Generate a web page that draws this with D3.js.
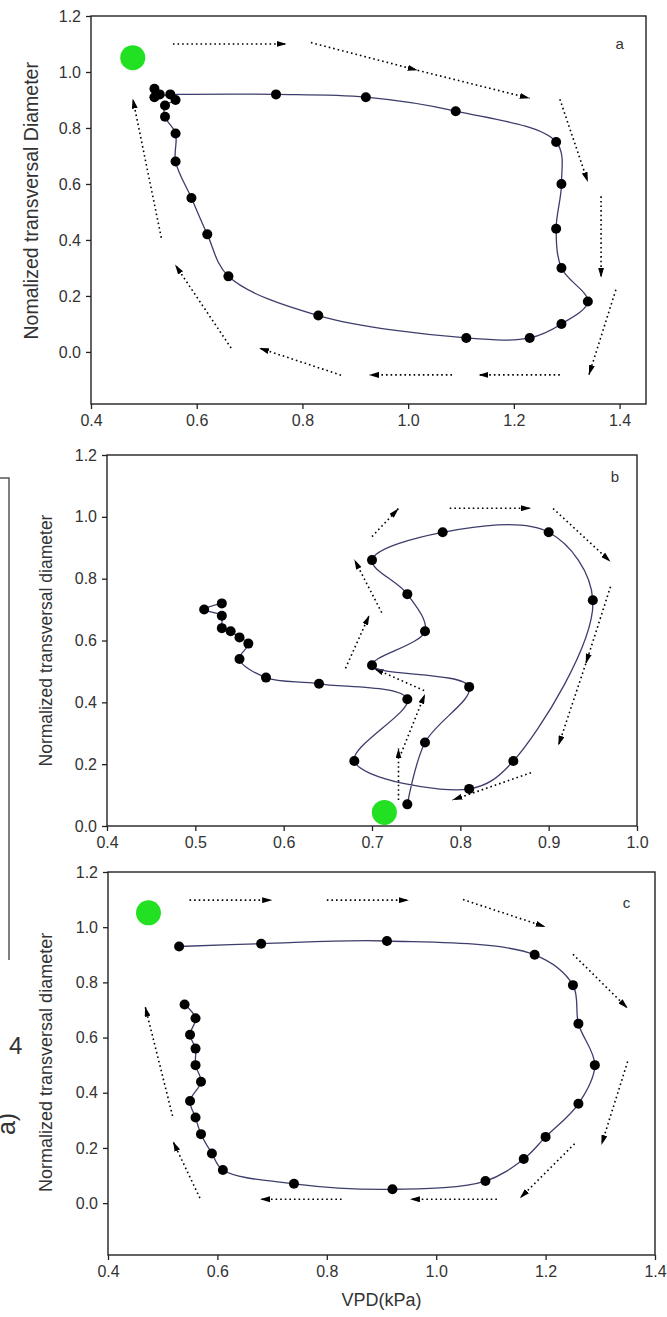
<!DOCTYPE html>
<html>
<head>
<meta charset="utf-8">
<script src="https://cdn.jsdelivr.net/npm/d3@7"></script>
<style>
  body { margin: 0; background: #fff; }
  svg { display: block; }
  text { font-family: Arial, "Liberation Sans", sans-serif; fill: #333; }
</style>
</head>
<body>
<script>
// valeurs (VPD en kPa, diametre normalise)
const aVPD  = [0.55, 0.75, 0.92, 1.09, 1.28, 1.29, 1.28, 1.29, 1.34, 1.29, 1.23, 1.11, 0.83, 0.66, 0.62, 0.59, 0.56, 0.56, 0.54, 0.54, 0.56, 0.53, 0.52, 0.52]
const aDiam = [0.92, 0.92, 0.91, 0.86, 0.75, 0.60, 0.44, 0.30, 0.18, 0.10, 0.05, 0.05, 0.13, 0.27, 0.42, 0.55, 0.68, 0.78, 0.84, 0.88, 0.90, 0.92, 0.91, 0.94]

const bVPD  = [0.74, 0.76, 0.81, 0.70, 0.76, 0.74, 0.70, 0.78, 0.90, 0.95, 0.86, 0.81, 0.68, 0.74, 0.64, 0.58, 0.55, 0.56, 0.55, 0.54, 0.53, 0.53, 0.51, 0.53]
const bDiam = [0.07, 0.27, 0.45, 0.52, 0.63, 0.75, 0.86, 0.95, 0.95, 0.73, 0.21, 0.12, 0.21, 0.41, 0.46, 0.48, 0.54, 0.59, 0.61, 0.63, 0.64, 0.68, 0.70, 0.72]

const cVPD  = [0.53, 0.68, 0.91, 1.18, 1.25, 1.26, 1.29, 1.26, 1.20, 1.16, 1.09, 0.92, 0.74, 0.61, 0.59, 0.57, 0.56, 0.55, 0.57, 0.56, 0.56, 0.55, 0.56, 0.54]
const cDiam = [0.93, 0.94, 0.95, 0.90, 0.79, 0.65, 0.50, 0.36, 0.24, 0.16, 0.08, 0.05, 0.07, 0.12, 0.18, 0.25, 0.31, 0.37, 0.44, 0.50, 0.56, 0.61, 0.67, 0.72]

// point de depart (gros point vert)
const aStart = [0.479, 1.051]
const bStart = [0.714, 0.044]
const cStart = [0.474, 1.052]

// fleches pointillees [x1, y1, x2, y2]
const aArrows = [
  [0.555, 1.100, 0.770, 1.100],
  [0.816, 1.105, 1.018, 1.006],
  [1.018, 1.006, 1.230, 0.906],
  [1.287, 0.903, 1.340, 0.607],
  [1.365, 0.556, 1.365, 0.265],
  [1.393, 0.222, 1.342, -0.082],
  [1.287, -0.082, 1.133, -0.082],
  [1.083, -0.082, 0.926, -0.082],
  [0.873, -0.083, 0.718, 0.014],
  [0.665, 0.014, 0.559, 0.312],
  [0.533, 0.408, 0.479, 0.905]
]
const bArrows = [
  [0.700, 0.936, 0.730, 1.027],
  [0.788, 1.028, 0.880, 1.028],
  [0.905, 1.027, 0.970, 0.855],
  [0.970, 0.774, 0.942, 0.525],
  [0.942, 0.525, 0.911, 0.260],
  [0.880, 0.172, 0.791, 0.084],
  [0.730, 0.084, 0.730, 0.251],
  [0.733, 0.235, 0.760, 0.427],
  [0.759, 0.438, 0.702, 0.510],
  [0.670, 0.510, 0.697, 0.682],
  [0.711, 0.690, 0.680, 0.862]
]
const cArrows = [
  [0.549, 1.098, 0.700, 1.098],
  [0.800, 1.098, 0.950, 1.098],
  [1.049, 1.100, 1.200, 1.001],
  [1.250, 0.902, 1.350, 0.706],
  [1.350, 0.513, 1.302, 0.211],
  [1.253, 0.215, 1.153, 0.018],
  [1.111, 0.014, 0.952, 0.014],
  [0.827, 0.014, 0.678, 0.014],
  [0.568, 0.018, 0.519, 0.223],
  [0.518, 0.316, 0.468, 0.712]
]

const xTicksA = [0.4, 0.6, 0.8, 1.0, 1.2, 1.4]
const xTicksB = [0.4, 0.5, 0.6, 0.7, 0.8, 0.9, 1.0]
const xTicksC = [0.4, 0.6, 0.8, 1.0, 1.2, 1.4]
const yTicks  = [0.0, 0.2, 0.4, 0.6, 0.8, 1.0, 1.2]

const WIDTH = 667
const HEIGHT = 1317
const fmt = d3.format('.1f')

const svg = d3.select('body')
  .append('svg')
  .attr('width', WIDTH)
  .attr('height', HEIGHT)

svg.append('defs')
  .append('marker')
  .attr('id', 'head')
  .attr('viewBox', '0 0 10 6')
  .attr('refX', 10)
  .attr('refY', 3)
  .attr('markerWidth', 10)
  .attr('markerHeight', 6)
  .attr('markerUnits', 'userSpaceOnUse')
  .attr('orient', 'auto')
  .append('path')
  .attr('d', 'M0,0L10,3L0,6Z')
  .attr('fill', '#000')

function drawPanel(p) {
  const x = d3.scaleLinear().domain(p.xDomain).range([p.left, p.right])
  const y = d3.scaleLinear().domain(p.yDomain).range([p.bottom, p.top])
  const g = svg.append('g')

  // axes
  const gy = g.append('g')
    .attr('transform', `translate(${p.left},0)`)
    .call(d3.axisLeft(y).tickValues(yTicks).tickSize(5).tickPadding(5).tickFormat(fmt))
  const gx = g.append('g')
    .attr('transform', `translate(0,${p.bottom})`)
    .call(d3.axisBottom(x).tickValues(p.xTicks).tickSize(5).tickPadding(6).tickFormat(fmt))
  for (const a of [gx, gy]) {
    a.select('.domain').remove()
    a.selectAll('line').attr('stroke', '#222').attr('stroke-width', 1.3)
    a.selectAll('text').attr('font-size', 16).attr('fill', '#333')
  }

  g.append('rect')
    .attr('x', p.left)
    .attr('y', p.top)
    .attr('width', p.right - p.left)
    .attr('height', p.bottom - p.top)
    .attr('fill', 'none')
    .attr('stroke', '#222')
    .attr('stroke-width', 1.4)

  g.append('text')
    .attr('transform', `translate(${p.titleX},${y(p.titleMid)}) rotate(-90)`)
    .attr('text-anchor', 'middle')
    .attr('font-size', p.titleSize)
    .text(p.title)

  g.append('text')
    .attr('x', x(p.labelPos[0]))
    .attr('y', y(p.labelPos[1]))
    .attr('text-anchor', 'middle')
    .attr('dy', '0.35em')
    .attr('font-size', 15)
    .text(p.label)

  // fleches
  g.selectAll('.arrow')
    .data(p.arrows)
    .enter()
    .append('line')
    .attr('x1', d => x(d[0]))
    .attr('y1', d => y(d[1]))
    .attr('x2', d => x(d[2]))
    .attr('y2', d => y(d[3]))
    .attr('stroke', '#000')
    .attr('stroke-width', 1.6)
    .attr('stroke-dasharray', '1.6,3')
    .attr('marker-end', 'url(#head)')

  // courbe
  const pts = p.vpd.map((v, i) => [v, p.diam[i]])
  const line = d3.line()
    .x(d => x(d[0]))
    .y(d => y(d[1]))
    .curve(d3.curveCatmullRom.alpha(0.5))
  g.append('path')
    .attr('d', line(pts))
    .attr('fill', 'none')
    .attr('stroke', '#3d3d6b')
    .attr('stroke-width', 1.3)

  g.selectAll('.pt')
    .data(pts)
    .enter()
    .append('circle')
    .attr('cx', d => x(d[0]))
    .attr('cy', d => y(d[1]))
    .attr('r', 5)
    .attr('fill', '#000')

  g.append('circle')
    .attr('cx', x(p.start[0]))
    .attr('cy', y(p.start[1]))
    .attr('r', 12.5)
    .attr('fill', '#22e022')
}

drawPanel({
  left: 91, right: 646, top: 16, bottom: 404,
  xDomain: [0.4, 1.45], yDomain: [-0.186, 1.2], xTicks: xTicksA,
  vpd: aVPD, diam: aDiam, arrows: aArrows, start: aStart,
  label: 'a', labelPos: [1.4, 1.10],
  title: 'Nomalized transversal Diameter', titleX: 38, titleMid: 0.54, titleSize: 19.5
})

drawPanel({
  left: 107, right: 637, top: 455, bottom: 826,
  xDomain: [0.4, 1.0], yDomain: [0, 1.2], xTicks: xTicksB,
  vpd: bVPD, diam: bDiam, arrows: bArrows, start: bStart,
  label: 'b', labelPos: [0.975, 1.13],
  title: 'Normalized transversal diameter', titleX: 52, titleMid: 0.6, titleSize: 17.5
})

drawPanel({
  left: 108, right: 655, top: 872, bottom: 1255,
  xDomain: [0.4, 1.4], yDomain: [-0.188, 1.2], xTicks: xTicksC,
  vpd: cVPD, diam: cDiam, arrows: cArrows, start: cStart,
  label: 'c', labelPos: [1.348, 1.09],
  title: 'Normalized transversal diameter', titleX: 52, titleMid: 0.51, titleSize: 18
})

svg.append('text')
  .attr('x', (108 + 655) / 2)
  .attr('y', 1306)
  .attr('text-anchor', 'middle')
  .attr('font-size', 18)
  .text('VPD(kPa)')

// restes de la figure voisine, a gauche
svg.append('path')
  .attr('d', 'M0,478H9V960')
  .attr('fill', 'none')
  .attr('stroke', '#555')
  .attr('stroke-width', 1.5)

svg.append('text')
  .attr('x', 9)
  .attr('y', 1054)
  .attr('font-size', 24)
  .attr('fill', '#111')
  .text('4')

svg.append('text')
  .attr('transform', 'translate(15,1124) rotate(-90)')
  .attr('text-anchor', 'middle')
  .attr('font-size', 25)
  .attr('fill', '#111')
  .text('a)')
</script>
</body>
</html>
